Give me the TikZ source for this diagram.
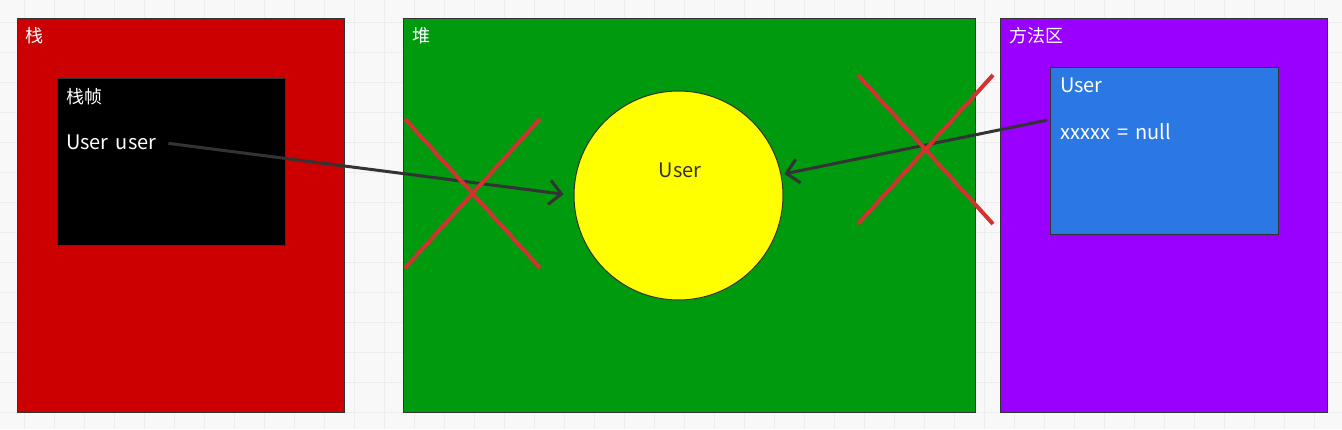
\documentclass[tikz,border=0pt]{standalone}
\usepackage{fontspec}
\newfontfamily\cjk[WordSpace=1.6]{Noto Sans CJK SC}
\usetikzlibrary{arrows.meta, positioning}
\definecolor{stackred}{HTML}{CC0000}
\definecolor{heapgreen}{HTML}{009A0E}
\definecolor{methodpurple}{HTML}{9900FF}
\definecolor{classblue}{HTML}{2B78E4}
\definecolor{objyellow}{RGB}{255,255,0}
\definecolor{edgegray}{HTML}{333333}
\definecolor{crossred}{HTML}{D23232}
\definecolor{paper}{HTML}{F8F8F8}
\definecolor{gridline}{HTML}{EDEDED}

\begin{document}
\begin{tikzpicture}[x=1pt, y=-1pt,
    area/.style={draw=edgegray, line width=1pt, anchor=north west, inner sep=0pt},
    title/.style={anchor=base west, inner sep=0pt, text=white, font=\cjk\fontsize{18}{21}\selectfont},
    field/.style={anchor=base west, inner sep=0pt, text=white, font=\cjk\fontsize{20}{23}\selectfont},
    line/.style={-{Straight Barb[length=12pt,width=24pt]}, draw=edgegray, line width=3pt},
    cross/.style={draw=crossred, line width=4pt}]
% background with faint grid
\fill[paper] (0,0) rectangle (1342,429);
\useasboundingbox (0,0) rectangle (1342,429);
\foreach \gx in {24,54,...,1344} \draw[gridline, line width=1pt] (\gx,0) -- (\gx,429);
\foreach \gy in {22,52,...,430} \draw[gridline, line width=1pt] (0,\gy) -- (1342,\gy);
% three memory areas
\node[area, fill=stackred, minimum width=327pt, minimum height=394pt] (stack) at (17,18) {};
\node[area, fill=heapgreen, minimum width=572pt, minimum height=394pt] (heap) at (403,18) {};
\node[area, fill=methodpurple, minimum width=327pt, minimum height=394pt] (method) at (1000,18) {};
\node[title] (stacklbl) at (25,42) {栈};
\node[title] (heaplbl) at (412,42) {堆};
\node[title] (methodlbl) at (1009,42) {方法区};
% stack frame
\node[area, fill=black, minimum width=228pt, minimum height=167pt] (frame) at (57,78) {};
\node[title] (framelbl) at (66,103) {栈帧};
\node[field] (ref) at (66,149) {User user};
% object on the heap
\node[circle, draw=edgegray, line width=1pt, fill=objyellow, minimum size=209pt, inner sep=0pt] (obj) at (678.5,195.5) {};
\node[field, anchor=base, text=edgegray] (objlbl) at (680,177) {User};
% class info
\node[area, fill=classblue, minimum width=228pt, minimum height=167pt] (cls) at (1050,67) {};
\node[field] (clslbl) at (1060,92) {User};
\node[field] (null) at (1060,139) {xxxxx = null};
% references
\draw[line, shorten <=12pt, shorten >=10pt] (ref.east) -- (obj.west);
\draw[line, shorten >=3pt] ([xshift=-13pt, yshift=11pt]null.west) -- (obj);
% broken references
\draw[cross] (405,119) -- (540,268);
\draw[cross] (405,268) -- (540,119);
\draw[cross] (858,75) -- (993,224);
\draw[cross] (858,224) -- (993,75);
\end{tikzpicture}
\end{document}
